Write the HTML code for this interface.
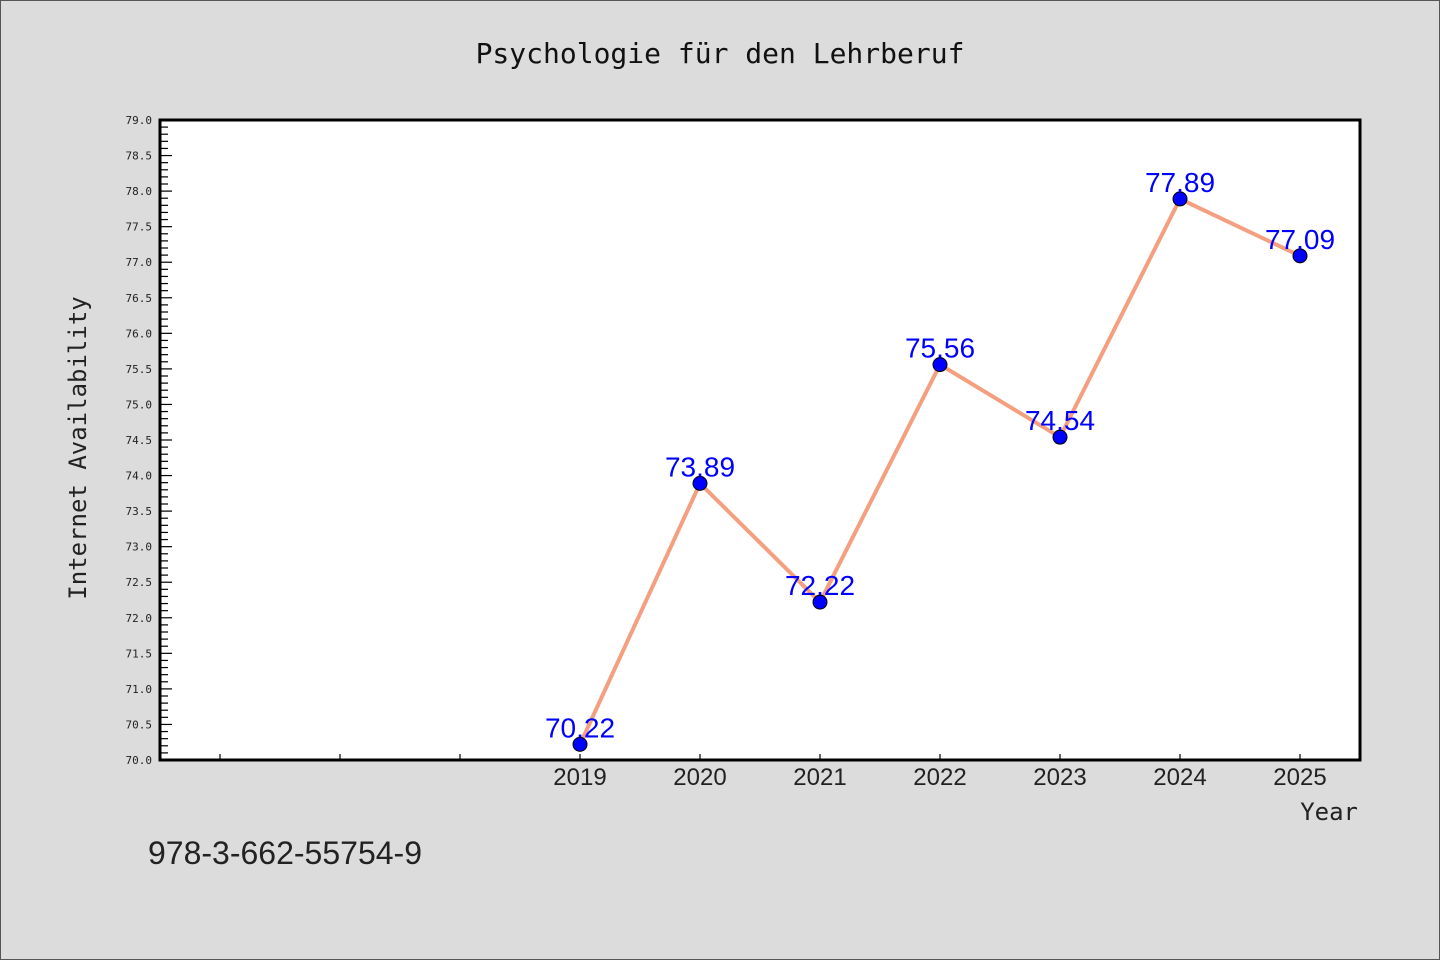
<!DOCTYPE html>
<html><head><meta charset="utf-8"><style>
body{margin:0;background:#dcdcdc;}
svg{display:block;font-family:"DejaVu Sans Mono","Liberation Mono",monospace;}
</style></head><body>
<svg id="c" width="1440" height="960">
<rect x="0.5" y="0.5" width="1439" height="959" fill="#dcdcdc" stroke="#555"/>
<text x="720" y="63" text-anchor="middle" font-size="28" fill="#111">Psychologie für den Lehrberuf</text>
<rect x="160" y="120" width="1200" height="640" fill="#fff" stroke="#000" stroke-width="3"/>
<text transform="translate(86,448) rotate(-90)" text-anchor="middle" font-size="24" fill="#222">Internet Availability</text>
<text x="1358" y="820" text-anchor="end" font-size="24" fill="#222">Year</text>
<text x="148" y="864" font-size="32" fill="#222" font-family="Liberation Sans, sans-serif">978-3-662-55754-9</text>
<g id="ax"></g><g id="marks"></g>
</svg>
<script>
const years=[2019,2020,2021,2022,2023,2024,2025];
const values=[70.22,73.89,72.22,75.56,74.54,77.89,77.09];
const labels=["70.22","73.89","72.22","75.56","74.54","77.89","77.09"];
const xTicks=[2016,2017,2018,2019,2020,2021,2022,2023,2024,2025];
const ns="http://www.w3.org/2000/svg";
const X=v=>160+(v-2015.5)*120;
const Y=v=>760-(v-70)*(640/9);
function mk(t,a,p){const e=document.createElementNS(ns,t);for(const k in a)e.setAttribute(k,a[k]);p.appendChild(e);return e;}
const ax=document.getElementById('ax');
for(let i=0;i<=90;i++){const v=70+i*0.1;const maj=i%5===0;
 const l=mk('line',{x1:160,x2:160+(maj?12:8),y1:Y(v),y2:Y(v),stroke:'#000','stroke-width':1.2},ax);
 
 if(maj){const t=mk('text',{x:152,y:Y(v)+4,'text-anchor':'end','font-size':11,fill:'#222'},ax);t.textContent=v.toFixed(1);
 }}
xTicks.forEach(y=>{const l=mk('line',{x1:X(y),x2:X(y),y1:760,y2:754,stroke:'#000','stroke-width':1.2},ax);
 
 if(years.includes(y)){const t=mk('text',{x:X(y),y:785,'text-anchor':'middle','font-size':24,fill:'#222','font-family':'Liberation Sans, sans-serif'},ax);t.textContent=y;
 }});
const m=document.getElementById('marks');
const pl=mk('polyline',{points:years.map((y,i)=>X(y)+','+Y(values[i])).join(' '),fill:'none',stroke:'#f4a080','stroke-width':4},m);

years.forEach((y,i)=>{const c=mk('circle',{cx:X(y),cy:Y(values[i]),r:7,fill:'#0000ff',stroke:'#000','stroke-width':1},m);
 
 const t=mk('text',{x:X(y),y:Y(values[i])-7,'text-anchor':'middle','font-size':28,fill:'#0000ff','font-family':'Liberation Sans, sans-serif'},m);t.textContent=labels[i];
 });
</script>
</body></html>
